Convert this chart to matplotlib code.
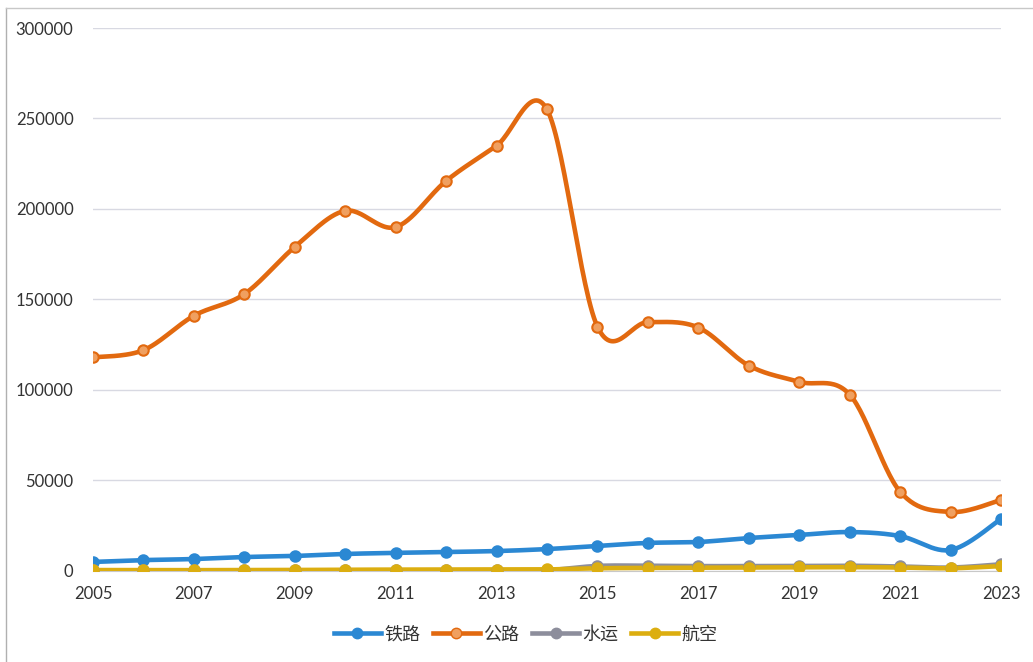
import numpy as np
import matplotlib
matplotlib.use("Agg")
import matplotlib.pyplot as plt
from matplotlib.lines import Line2D

plt.rcParams['font.family'] = ['Lato', 'Noto Sans CJK SC', 'DejaVu Sans']

years = list(range(2005, 2024))
rail = [5000, 6000, 6600, 7700, 8300, 9400, 10000, 10500, 11000, 12100,
        13800, 15500, 16000, 18200, 19900, 21500, 19300, 11600, 28700]
road = [118000, 122000, 141000, 153000, 179000, 199000, 190000, 215500, 235000, 255000,
        135000, 137500, 134500, 113500, 104500, 97500, 43800, 32600, 39200]
water = [300, 300, 300, 300, 300, 350, 350, 400, 400, 450,
         2800, 2900, 2700, 2700, 2800, 2900, 2500, 1900, 3700]
air = [500, 450, 450, 500, 550, 700, 750, 800, 800, 850,
       1500, 1700, 1800, 1900, 2000, 2100, 1900, 1500, 2700]

series = [("铁路", rail, "#2b88d3", "#2b88d3"),
          ("公路", road, "#e2690f", "#f0a060"),
          ("水运", water, "#8d8e9c", "#8d8e9c"),
          ("航空", air, "#dcae10", "#dcae10")]


def smooth(x, y, n=30):
    # Excel-style smoothed line (Catmull-Rom bezier between points)
    x = np.asarray(x, float)
    y = np.asarray(y, float)
    px = np.concatenate([[x[0]], x, [x[-1]]])
    py = np.concatenate([[y[0]], y, [y[-1]]])
    t = np.linspace(0, 1, n)
    xs, ys = [], []
    for i in range(1, len(px) - 2):
        p0x, p1x, p2x, p3x = px[i - 1], px[i], px[i + 1], px[i + 2]
        p0y, p1y, p2y, p3y = py[i - 1], py[i], py[i + 1], py[i + 2]
        c1x = p1x + (p2x - p0x) / 6
        c1y = p1y + (p2y - p0y) / 6
        c2x = p2x - (p3x - p1x) / 6
        c2y = p2y - (p3y - p1y) / 6
        b0 = (1 - t) ** 3
        b1 = 3 * (1 - t) ** 2 * t
        b2 = 3 * (1 - t) * t ** 2
        b3 = t ** 3
        xs.append(b0 * p1x + b1 * c1x + b2 * c2x + b3 * p2x)
        ys.append(b0 * p1y + b1 * c1y + b2 * c2y + b3 * p2y)
    return np.concatenate(xs), np.concatenate(ys)


fig = plt.figure(figsize=(10.33, 6.62), dpi=100)
ax = fig.add_axes([0.090, 0.1375, 0.879, 0.8202])

handles = []
for name, vals, col, face in series:
    sx, sy = smooth(years, vals)
    ax.plot(sx, sy, color=col, linewidth=3.3, solid_capstyle='round', zorder=3)
    ax.plot(years, vals, linestyle='none', marker='o', markersize=7.5,
            markerfacecolor=face, markeredgecolor=col, markeredgewidth=1.5, zorder=4)
    handles.append(Line2D([0], [0], color=col, linewidth=3.3, marker='o', markersize=7.5,
                          markerfacecolor=face, markeredgecolor=col))

ax.set_xlim(2005, 2023)
ax.set_ylim(0, 300000)
ax.set_yticks(range(0, 300001, 50000))
ax.set_xticks(range(2005, 2024, 2))
ax.grid(axis='y', color='#d8d9e2', linewidth=1)
ax.set_axisbelow(True)
for s in ['left', 'right', 'top']:
    ax.spines[s].set_visible(False)
ax.spines['bottom'].set_color('#c8c8c8')
ax.tick_params(length=0, labelsize=12, colors='#333333')
ax.tick_params(axis='y', pad=14)
ax.tick_params(axis='x', pad=11)

leg = fig.legend(handles, [s[0] for s in series], loc='center', bbox_to_anchor=(0.509, 0.042),
                 ncol=4, frameon=False, fontsize=13, handlelength=2.6, columnspacing=0.7,
                 handletextpad=0.2)
for t in leg.get_texts():
    t.set_color('#333333')

# scan frame edges
fig.add_artist(Line2D([0.006, 0.006], [0, 0.988], color='#b0b0b0', linewidth=1))
fig.add_artist(Line2D([0.006, 1.0], [0.988, 0.988], color='#c8c8c8', linewidth=1))

fig.savefig("out.png", dpi=100, facecolor='white')
